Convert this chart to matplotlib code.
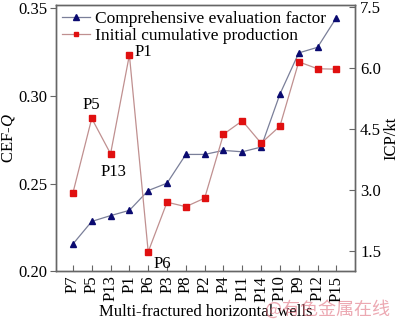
import matplotlib
matplotlib.use("Agg")
import matplotlib.pyplot as plt

wells = ["P7", "P5", "P13", "P1", "P6", "P3", "P8", "P2", "P4", "P11", "P14", "P10", "P9", "P12", "P15"]
cef = [0.2156, 0.2285, 0.2318, 0.2348, 0.2461, 0.2503, 0.2667, 0.2667, 0.2690, 0.2682, 0.2709, 0.3011, 0.3246, 0.3278, 0.3447]
icp = [2.93, 4.76, 3.89, 6.32, 1.48, 2.70, 2.59, 2.80, 4.37, 4.70, 4.15, 4.57, 6.15, 5.98, 5.97]
left_ticks = [0.20, 0.25, 0.30, 0.35]
right_ticks = [1.5, 3.0, 4.5, 6.0, 7.5]
annot = {"P1": (0.25, 0.08), "P5": (0.0, 0.32), "P13": (0.15, -0.45), "P6": (0.3, -0.3)}

plt.rcParams['font.family'] = ['Liberation Serif', 'DejaVu Serif']
plt.rcParams['mathtext.fontset'] = 'custom'
plt.rcParams['mathtext.it'] = 'Liberation Serif:italic'
plt.rcParams['mathtext.rm'] = 'Liberation Serif'

fig = plt.figure(figsize=(4.0, 3.25), dpi=100)
ax = fig.add_axes([0.14, 0.165, 0.748, 0.82])
ax2 = ax.twinx()

x = list(range(len(wells)))
gray = "#666666"
l1, = ax.plot(x, cef, color="#7a7f99", lw=0.9, marker="^", ms=5, mfc="#0a0a70", mec="#0a0a70",
              label="Comprehensive evaluation factor")
l2, = ax2.plot(x, icp, color="#c09090", lw=0.9, marker="s", ms=4, mfc="#e01010", mec="#e01010",
               label="Initial cumulative production")

ax.set_xlim(-0.9, 15.0)
ax.set_ylim(0.2, 0.352)
ax2.set_ylim(1.0, 7.55)
ax.set_yticks(left_ticks)
ax.set_yticklabels([f"{v:.2f}" for v in left_ticks])
ax2.set_yticks(right_ticks)
ax2.set_yticklabels([f"{v:.1f}" for v in right_ticks])
ax.set_xticks(x)
ax.set_xticklabels(wells, rotation=90)

fs = 12
ax.tick_params(axis="y", direction="out", labelsize=fs, length=4, color=gray, pad=2)
ax.tick_params(axis="x", direction="in", labelsize=fs, length=4, color=gray, pad=3)
ax2.tick_params(axis="y", direction="in", labelsize=fs, length=4, color=gray)
for a in (ax, ax2):
    for s in a.spines.values():
        s.set_color(gray)
        s.set_linewidth(1.0)

ax.set_ylabel(r"CEF-$\it{Q}$", fontsize=fs, labelpad=1)
ax2.set_ylabel("ICP/kt", fontsize=fs, labelpad=2)
ax.set_xlabel("Multi-fractured horizontal wells", fontsize=fs, labelpad=2)

for name, (dx, dy) in annot.items():
    i = wells.index(name)
    ax2.text(i + dx, icp[i] + dy, name, fontsize=fs, ha="left" if dx > 0.2 else "center", va="center")

ax.legend([l1, l2], [l1.get_label(), l2.get_label()], loc="upper left", frameon=False, fontsize=12.5,
          handlelength=1.6, handletextpad=0.3, borderaxespad=0.15, labelspacing=0.05,
          borderpad=0.2, markerscale=0.8)

fig.text(0.975, 0.02, "@有色金属在线", fontsize=13, color="#e07080", alpha=0.6, ha="right", va="bottom",
         family=["Noto Sans CJK SC", "DejaVu Sans"])

fig.savefig("out.png", dpi=100)
